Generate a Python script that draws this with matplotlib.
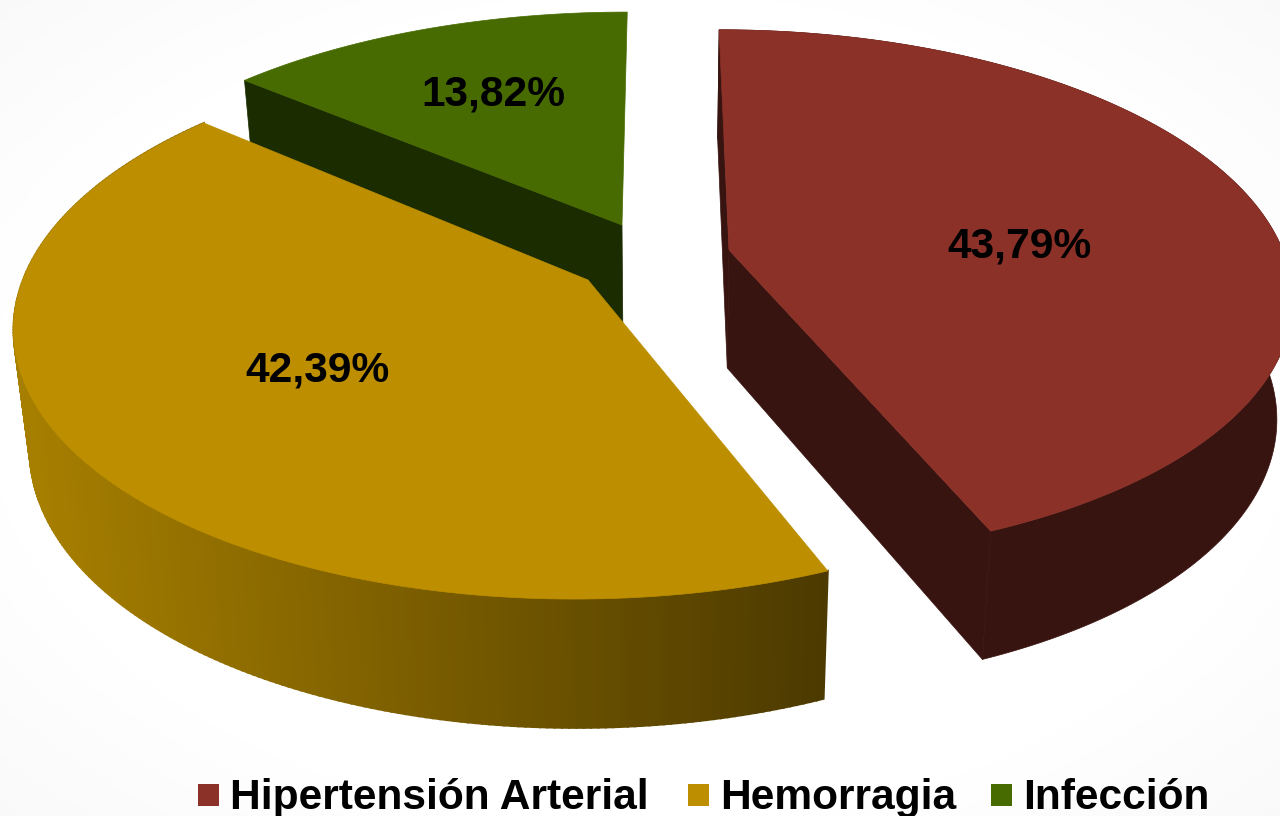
"""
    3d style exploded pie, causes (Hipertension / Hemorragia / Infeccion)
"""

import numpy
from matplotlib import pyplot as plt
from matplotlib.patches import Polygon, Rectangle

categories = ["Hipertensión Arterial", "Hemorragia", "Infección"]
values = [43.79, 42.39, 13.82]
value_labels = ["43,79%", "42,39%", "13,82%"]

top_colors = ["#8C3128", "#BD8F00", "#476B00"]
side_colors = ["#381410", "#A88000", "#1A2C00"]
wall_end_colors = ["#381410", "#4B3900", "#1A2C00"]

apex_x = [729, 588, 622]
apex_y = [250, 280, 225]
size_x = [0.98, 1.0, 0.975]
radius_y = [257.0, 268.0, 247.0]
persp = [0.167, 0.16, 0.16]
label_x = [1019, 317, 493]
label_y = [246, 370, 94]
legend_box_x = [198, 688, 991]
legend_text_x = [230, 720, 1023]

RX = 565.0
VANISH_X = 660.0
DEPTH = 118.0


def hex2rgb(cc) :
    return numpy.array([int(cc[ii:ii+2], 16) / 255.0 for ii in (1, 3, 5)])


def top_points(idx, ang) :
    # ang in radians, clockwise from the back of the pie
    uu = numpy.sin(ang) * size_x[idx]
    vv = -numpy.cos(ang)
    ww = 1.0 - persp[idx] * vv
    xx = apex_x[idx] + RX * uu / ww + (apex_x[idx] - VANISH_X) * (1.0 / ww - 1.0)
    yy = apex_y[idx] + radius_y[idx] * vv / ww
    return xx, yy, ww


def drop(xx, yy, ww) :
    # same points at the bottom of the slab
    return xx + (VANISH_X - xx) * 0.025, yy + DEPTH / numpy.sqrt(ww)


def draw_wedge(ax, idx, ang0, ang1) :
    zz = idx_order[idx]
    aa = numpy.linspace(ang0, ang1, 240)
    xx, yy, ww = top_points(idx, aa)
    bx, by = drop(xx, yy, ww)
    axb, ayb = drop(float(apex_x[idx]), float(apex_y[idx]), 1.0)

    # cut faces
    for end in cut_faces[idx] :
        pts = [(apex_x[idx], apex_y[idx]), (xx[end], yy[end]), (bx[end], by[end]), (axb, ayb)]
        ax.add_patch(Polygon(pts, closed=True, fc=side_colors[idx], ec=side_colors[idx], lw=0.5, zorder=zz))

    # outer wall, the green one faces away
    if show_wall[idx] :
        if side_colors[idx] == wall_end_colors[idx] :
            pts = numpy.column_stack([numpy.r_[xx, bx[::-1]], numpy.r_[yy, by[::-1]]])
            ax.add_patch(Polygon(pts, closed=True, fc=side_colors[idx], ec=side_colors[idx], lw=0.5, zorder=zz))
        else :
            # one strip per step so it can shade left to right
            c0 = hex2rgb(side_colors[idx])
            c1 = hex2rgb(wall_end_colors[idx])
            for ii in range(len(aa) - 1, 0, -1) :
                tt = min(1.0, max(0.0, (xx[ii] - 12.0) / 820.0))
                col = c0 + (c1 - c0) * tt
                pts = [(xx[ii], yy[ii]), (xx[ii-1], yy[ii-1]), (bx[ii-1], by[ii-1]), (bx[ii], by[ii])]
                ax.add_patch(Polygon(pts, closed=True, fc=col, ec=col, lw=1.5, zorder=zz))

    # top face
    pts = numpy.column_stack([numpy.r_[apex_x[idx], xx], numpy.r_[apex_y[idx], yy]])
    ax.add_patch(Polygon(pts, closed=True, fc=top_colors[idx], ec=top_colors[idx], lw=0.5, zorder=zz + 0.5))


# back slice first, the yellow one sits over the green wall
idx_order = [2, 3, 1]
cut_faces = [(0, -1), (), (0,)]
show_wall = [True, True, False]

fig = plt.figure(figsize=(12.8, 8.16), dpi=100)
ax = fig.add_axes([0, 0, 1, 1])
ax.set_xlim(0, 1280)
ax.set_ylim(816, 0)
ax.axis("off")

# faint shading towards the corners of the slide
gy, gx = numpy.mgrid[0:816:4, 0:1280:4]
rr = numpy.hypot((gx - 640.0) / 640.0, (gy - 408.0) / 408.0)
shade = 1.0 - 0.025 * numpy.clip(rr - 0.95, 0, 1) / 0.46
ax.imshow(shade, cmap="gray", vmin=0, vmax=1, extent=(0, 1280, 816, 0), aspect="auto", zorder=0)

start = 0.0
for idx in range(len(values)) :
    sweep = 2.0 * numpy.pi * values[idx] / sum(values)
    draw_wedge(ax, idx, start, start + sweep)
    start += sweep

for idx in range(len(values)) :
    ax.text(label_x[idx], label_y[idx], value_labels[idx], family="Liberation Sans", weight="bold",
            fontsize=30.6, color="black", ha="center", va="center", zorder=10)
    ax.add_patch(Rectangle((legend_box_x[idx], 784), 21, 22, fc=top_colors[idx], ec="none", zorder=10))
    ax.text(legend_text_x[idx], 809, categories[idx], family="Liberation Sans", weight="bold",
            fontsize=30.6, color="black", ha="left", va="baseline", zorder=10)

fig.savefig("out.png", dpi=100)
